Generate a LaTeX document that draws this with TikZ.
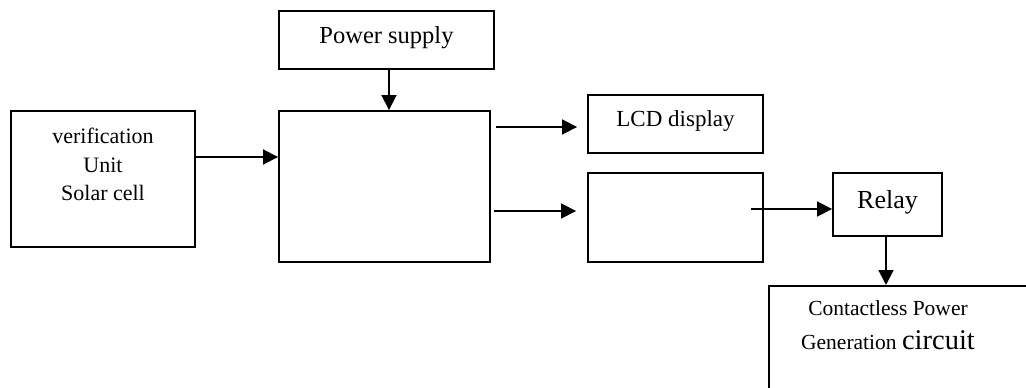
\documentclass[tikz,border=0pt]{standalone}
\usepackage{fontspec}
\setmainfont{Liberation Serif}
\usetikzlibrary{arrows.meta}

\tikzset{
  blok/.style={draw=black,line width=1.9pt,inner sep=0pt,text depth=10pt,
    font=\fontsize{23}{28.5}\selectfont},
  tekst/.style={align=center,inner sep=0pt},
  pijl/.style={draw=black,line width=1.8pt,-{Triangle[length=15pt,width=15pt]}}
}

\begin{document}
\begin{tikzpicture}[x=1pt,y=-1pt]
\useasboundingbox (0,0) rectangle (1026,388);
\clip (0,0) rectangle (1026,388);

% boxes
\node[blok,minimum width=215pt,minimum height=58pt,font=\fontsize{24.5}{28}\selectfont] (supply) at (386.5,40) {Power supply};
\node[blok,minimum width=211pt,minimum height=151pt] (ctrl) at (384.5,186.5) {};
\node[blok,minimum width=184pt,minimum height=136pt] (verif) at (103,179) {};
\node[tekst,anchor=north,font=\fontsize{22}{28.5}\selectfont] (veriftxt) at (103,128) {verification\\Unit\\Solar cell};
\node[blok,minimum width=175pt,minimum height=58pt] (lcd) at (675.5,124) {LCD display};
\node[blok,minimum width=175pt,minimum height=89pt] (drv) at (675.5,217.5) {};
\node[blok,minimum width=109pt,minimum height=63pt,font=\fontsize{26}{30}\selectfont] (relay) at (887.5,204.5) {Relay};
\node[blok,minimum width=300pt,minimum height=150pt,anchor=north west] (gen) at (768,285) {};
\node[tekst,anchor=north,font=\fontsize{21.5}{34}\selectfont] (gentxt) at (888,300) {Contactless Power\\Generation {\fontsize{28.5}{34}\selectfont circuit}};

% connectors
\coordinate (in1) at (195,157);
\coordinate (out1) at (496,127);
\coordinate (out2) at (494,211);
\coordinate (out3) at (751,209);
\draw[pijl] ([xshift=2.5pt]supply.south) -- ([xshift=2.5pt]supply.south |- ctrl.north);
\draw[pijl] (in1) -- (in1 -| ctrl.west);
\draw[pijl,shorten >=10pt] (out1) -- (out1 -| lcd.west);
\draw[pijl,shorten >=11pt] (out2) -- (out2 -| drv.west);
\draw[pijl] (out3) -- (out3 -| relay.west);
\draw[pijl] ([xshift=-1.5pt]relay.south) -- ([xshift=-1.5pt]relay.south |- gen.north);
\end{tikzpicture}
\end{document}
